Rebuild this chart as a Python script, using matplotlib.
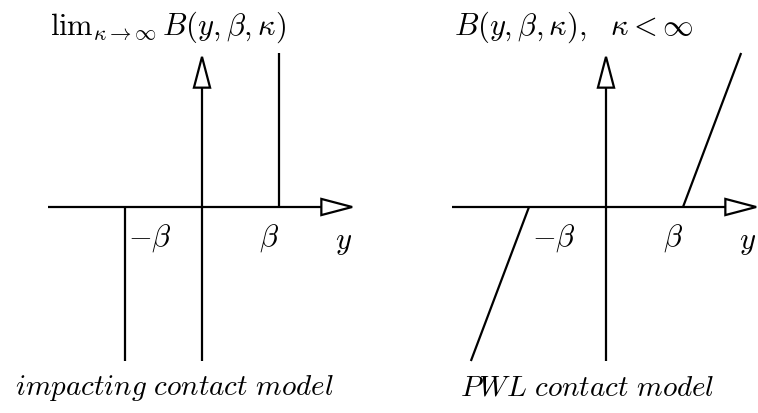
import matplotlib
matplotlib.use("Agg")
import matplotlib.pyplot as plt
from matplotlib.patches import Polygon

plt.rcParams["mathtext.fontset"] = "cm"
plt.rcParams["font.family"] = ["DejaVu Serif"]

# model parameters (axis units)
beta = 1.0          # contact gap
kappa = 2.65        # finite contact stiffness (slope of PWL branches)
force_max = 2.0     # extent of the drawn force branches
axis_min = -2.0
axis_max = 1.95

titles = [r"$\mathrm{lim}_{\kappa\to\infty}\, B(y,\beta,\kappa)$",
          r"$B(y,\beta,\kappa),\ \ \kappa<\infty$"]
captions = [r"$impacting\ contact\ model$", r"$PWL\ contact\ model$"]
tick_labels = [r"$-\beta$", r"$\beta$"]
axis_label = r"$y$"

W, H = 758, 414
unit = 77.0  # pixels per axis unit
fig = plt.figure(figsize=(W / 100, H / 100), dpi=100)

panel_origins = [(202, 208), (606, 208)]
caption_x = [-2.43, -1.90]
lw = 1.6
fs = 22


def arrow_head(ax, tip, direction, length=0.40, half=0.105):
    tx, ty = tip
    dx, dy = direction
    bx, by = tx - dx * length, ty - dy * length
    px, py = -dy * half, dx * half
    tri = Polygon([(tx, ty), (bx + px, by + py), (bx - px, by - py)],
                  closed=True, fc="white", ec="black", lw=lw,
                  joinstyle="miter", clip_on=False, zorder=3)
    ax.add_patch(tri)
    return bx, by


for i, (ox, oy) in enumerate(panel_origins):
    x0 = (W / 2) * i
    ax = fig.add_axes([x0 / W, 0, 0.5, 1])
    ax.set_xlim((x0 - ox) / unit, (x0 + W / 2 - ox) / unit)
    ax.set_ylim(-(H - oy) / unit, oy / unit)
    ax.axis("off")

    # horizontal axis with open arrowhead
    bx, _ = arrow_head(ax, (axis_max, 0), (1, 0))
    ax.plot([axis_min, bx], [0, 0], color="black", lw=lw, solid_capstyle="butt")
    # vertical axis with open arrowhead
    _, by = arrow_head(ax, (0, axis_max), (0, 1))
    ax.plot([0, 0], [axis_min, by], color="black", lw=lw, solid_capstyle="butt")

    if i == 0:
        # rigid contact: vertical branches at +/- beta
        ax.plot([beta, beta], [0, force_max], color="black", lw=lw,
                solid_capstyle="butt")
        ax.plot([-beta, -beta], [0, -force_max], color="black", lw=lw,
                solid_capstyle="butt")
    else:
        # piecewise-linear contact with stiffness kappa
        ax.plot([beta, beta + force_max / kappa], [0, force_max],
                color="black", lw=lw, solid_capstyle="butt")
        ax.plot([-beta, -beta - force_max / kappa], [0, -force_max],
                color="black", lw=lw, solid_capstyle="butt")

    ax.text(-1.98, 2.25, titles[i], fontsize=fs, ha="left", va="baseline")
    ax.text(-0.96, -0.39, tick_labels[0], fontsize=fs, ha="left", va="center")
    ax.text(0.87, -0.39, tick_labels[1], fontsize=fs, ha="center", va="center")
    ax.text(1.84, -0.44, axis_label, fontsize=fs, ha="center", va="center")
    ax.text(caption_x[i], -2.43, captions[i], fontsize=21, ha="left",
            va="baseline")

fig.savefig("out.png", dpi=100)
